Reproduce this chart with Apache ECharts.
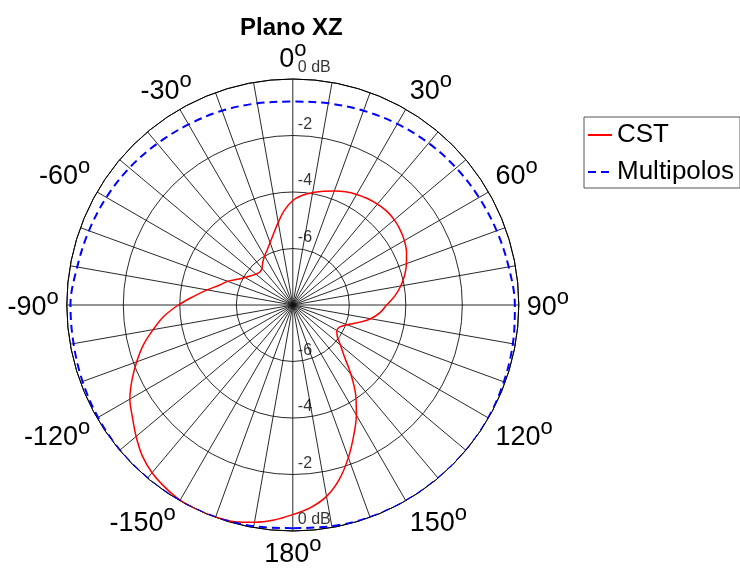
<!DOCTYPE html>
<html>
<head>
<meta charset="utf-8">
<script src="https://cdn.jsdelivr.net/npm/echarts@6/dist/echarts.min.js"></script>
<style>
  html, body { margin: 0; padding: 0; background: #fff; }
  #chart { width: 740px; height: 571px; }
</style>
</head>
<body>
<div id="chart"></div>
<script>
const FONT = '"Liberation Sans", Arial, Helvetica, sans-serif';

// Pattern angles in degrees, clockwise from the top, -180..180
const cstAngles = [-180, -175, -170, -165, -160, -155, -150, -145, -140, -135, -130, -125,
  -120, -115, -110, -105, -100, -95, -90, -85, -80, -75, -70, -65,
  -60, -55, -50, -45, -40, -35, -30, -25, -20, -15, -10, -5,
  0, 5, 10, 15, 20, 25, 30, 35, 40, 45, 50, 55,
  60, 65, 70, 75, 80, 85, 90, 95, 100, 105, 110, 115,
  120, 125, 130, 135, 140, 145, 150, 155, 160, 165, 170, 175, 180];

// CST normalised gain (dB)
const cstGain = [-0.58, -0.36, -0.19, -0.06, -0.01, 0.00, -0.02, -0.12, -0.25, -0.46, -0.76, -1.07,
  -1.34, -1.72, -2.12, -2.52, -2.98, -3.42, -3.95, -4.48, -4.92, -5.30, -5.55, -5.85,
  -6.05, -6.20, -6.30, -6.35, -6.30, -6.15, -6.00, -5.85, -5.65, -5.38, -5.03, -4.63,
  -4.30, -4.10, -3.96, -3.83, -3.71, -3.58, -3.48, -3.40, -3.34, -3.30, -3.31, -3.36,
  -3.44, -3.56, -3.72, -3.90, -4.12, -4.38, -4.68, -4.90, -5.20, -5.60, -5.96, -6.16,
  -6.20, -6.08, -5.80, -5.42, -4.80, -4.12, -3.50, -2.90, -2.25, -1.62, -1.12, -0.80, -0.58];

// Multipole expansion gain (dB), every 10 degrees
const multiAngles = [-180, -170, -160, -150, -140, -130, -120, -110, -100, -90, -80, -70,
  -60, -50, -40, -30, -20, -10, 0, 10, 20, 30, 40, 50,
  60, 70, 80, 90, 100, 110, 120, 130, 140, 150, 160, 170, 180];
const multiGain = [-0.10, -0.05, -0.01, 0.00, 0.00, -0.01, -0.04, -0.08, -0.12, -0.13, -0.25, -0.32,
  -0.38, -0.45, -0.54, -0.62, -0.68, -0.75, -0.80, -0.75, -0.68, -0.60, -0.52, -0.45,
  -0.39, -0.32, -0.24, -0.14, -0.09, -0.05, -0.01, 0.00, 0.00, 0.00, -0.01, -0.05, -0.10];

// Radial rings and their captions
const ringValues = [-6, -4, -2, 0];
const ringLabels = ['-6', '-4', '-2', '0 dB'];

// Angular captions
const angleLabels = [0, 30, 60, 90, 120, 150, 180, -150, -120, -90, -60, -30];

// polar angle axis runs 0..360 clockwise from the top
const toAxisAngle = a => (a + 360) % 360;
const cstData = cstAngles.map((a, i) => [cstGain[i], toAxisAngle(a)]);
const multiData = multiAngles.map((a, i) => [multiGain[i], toAxisAngle(a)]);

const ringLabelData = [];
ringValues.forEach((r, i) => {
  ringLabelData.push({ name: ringLabels[i], value: [r, 0] });
  ringLabelData.push({ name: ringLabels[i], value: [r, 180] });
});

const gridColor = '#111';

const chart = echarts.init(document.getElementById('chart'), null, { renderer: 'canvas' });
chart.setOption({
  animation: false,
  backgroundColor: '#fff',
  title: {
    text: 'Plano XZ',
    left: 240,
    top: 16,
    padding: 0,
    textStyle: { fontFamily: FONT, fontSize: 24, fontWeight: 'bold', color: '#000' }
  },
  legend: {
    orient: 'vertical',
    left: 584,
    top: 117,
    padding: [5, 6, 3, 3],
    itemGap: 11,
    itemWidth: 24,
    itemHeight: 12,
    borderColor: '#555',
    borderWidth: 1,
    itemStyle: { opacity: 0 },
    textStyle: { fontFamily: FONT, fontSize: 26, color: '#000' },
    data: ['CST', 'Multipolos']
  },
  polar: {
    center: [292.8, 305],
    radius: 226
  },
  angleAxis: {
    type: 'value',
    min: 0,
    max: 360,
    interval: 10,
    startAngle: 90,
    clockwise: true,
    axisLine: { show: true, lineStyle: { color: '#000', width: 1 } },
    axisTick: { show: false },
    splitLine: { show: true, lineStyle: { color: gridColor, width: 0.9 } },
    axisLabel: {
      margin: 8,
      padding: [2, 0, -3, 0],
      formatter: v => {
        if (v === 360) return '';
        const d = v > 180 ? v - 360 : v;
        if (angleLabels.indexOf(d) < 0) return '';
        return '{n|' + d + '}{' + (d === -30 ? 'sx' : 's') + '|o}';
      },
      rich: {
        n: { fontFamily: FONT, fontSize: 27, color: '#000', lineHeight: 28 },
        s: { fontFamily: FONT, fontSize: 22, color: '#000', lineHeight: 8, padding: [0, 0, 20, 0] },
        sx: { fontFamily: FONT, fontSize: 22, color: '#000', lineHeight: 8, padding: [0, -16, 20, 0] }
      }
    }
  },
  radiusAxis: {
    type: 'value',
    min: -8,
    max: 0,
    interval: 2,
    axisLine: { show: false },
    axisTick: { show: false },
    axisLabel: { show: false },
    splitLine: { show: true, lineStyle: { color: gridColor, width: 0.9 } }
  },
  series: [
    {
      name: 'CST',
      type: 'line',
      coordinateSystem: 'polar',
      data: cstData,
      symbol: 'none',
      smooth: 0.35,
      clip: false,
      color: '#ff0000',
      lineStyle: { color: '#ff0000', width: 1.5 },
      z: 3
    },
    {
      name: 'Multipolos',
      type: 'line',
      coordinateSystem: 'polar',
      data: multiData,
      symbol: 'none',
      smooth: 0.35,
      clip: false,
      color: '#0000ff',
      lineStyle: { color: '#0000ff', width: 2, type: [8, 5] },
      z: 3
    },
    {
      name: 'rings',
      type: 'scatter',
      coordinateSystem: 'polar',
      silent: true,
      clip: false,
      symbol: 'circle',
      symbolSize: 0,
      data: ringLabelData,
      label: {
        show: true,
        formatter: '{b}',
        position: [5, -19],
        align: 'left',
        verticalAlign: 'top',
        fontFamily: FONT,
        fontSize: 16,
        color: '#000'
      },
      z: 4
    }
  ]
});
</script>
</body>
</html>
